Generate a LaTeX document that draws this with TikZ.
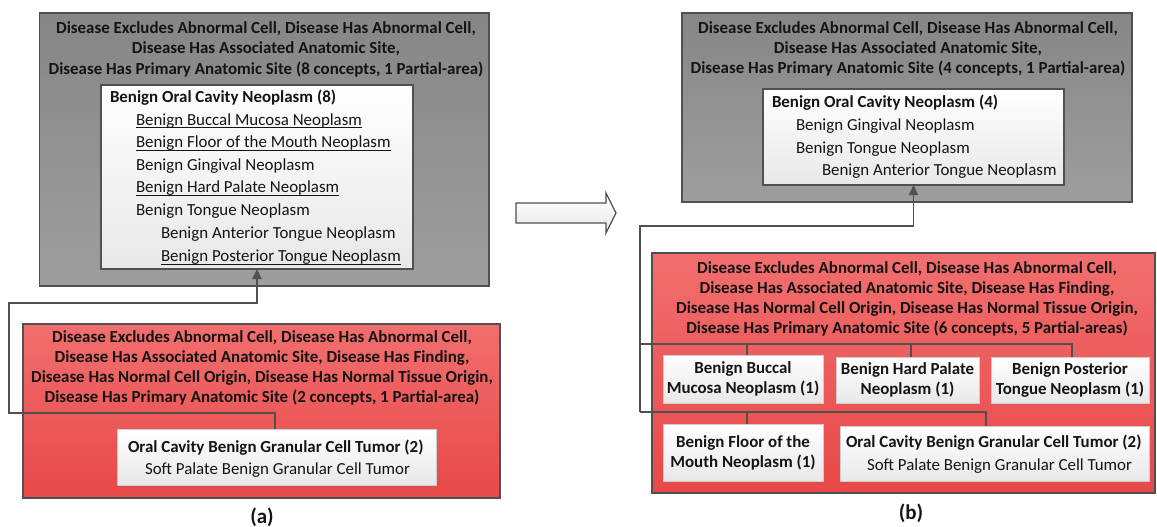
\documentclass[tikz,border=0pt]{standalone}
\usepackage{fontspec}
\setmainfont{Carlito}
\usetikzlibrary{arrows.meta}

\definecolor{edge}{RGB}{80,80,80}
\definecolor{gtop}{RGB}{134,134,134}
\definecolor{gbot}{RGB}{158,158,158}
\definecolor{rtop}{RGB}{242,110,110}
\definecolor{rbot}{RGB}{232,72,72}
\definecolor{wbot}{RGB}{232,232,232}
\definecolor{ink}{RGB}{20,20,20}
\definecolor{lightedge}{RGB}{205,205,205}

\begin{document}
\begin{tikzpicture}[x=1pt,y=-1pt,
  every node/.style={inner sep=0pt, outer sep=0pt, text=ink},
  tx/.style={font=\fontsize{16.9}{20}\selectfont},
  hd/.style={font=\fontsize{16.9}{20}\selectfont\bfseries},
  panel/.style={draw=edge, line width=1.6pt, anchor=north west},
  graypanel/.style={panel, top color=gtop, bottom color=gbot},
  redpanel/.style={panel, top color=rtop, bottom color=rbot},
  listbox/.style={draw=edge, line width=1.4pt, anchor=north west, top color=white, bottom color=wbot},
  pabox/.style={draw=lightedge, line width=0.8pt, top color=white, bottom color=wbot,
                align=center, font=\fontsize{16.9}{20}\selectfont\bfseries},
  conn/.style={draw=edge, line width=1.8pt},
  tip/.style={-{Triangle[length=10pt,width=9pt]}},
  uline/.style={draw=ink, line width=0.9pt},
  caption/.style={font=\fontsize{21}{24}\selectfont\bfseries, anchor=base}
]
\useasboundingbox (0,0) rectangle (1157,527);

% ---------------- (a) ----------------
\node[graypanel, minimum width=449.5pt, minimum height=273pt] (g1) at (39.5,13) {};
\node[hd, anchor=base] (g1l1) at (266,33.5) {Disease Excludes Abnormal Cell, Disease Has Abnormal Cell,};
\node[hd, anchor=base] (g1l2) at (266,54) {Disease Has Associated Anatomic Site,};
\node[hd, anchor=base] (g1l3) at (266,74.5) {Disease Has Primary Anatomic Site (8 concepts, 1 Partial-area)};

\node[listbox, minimum width=312pt, minimum height=184pt] (w1) at (101,85) {};
\node[hd, anchor=base west] (w1h) at (110,102.5) {Benign Oral Cavity Neoplasm (8)};
\node[tx, anchor=base west] (w1a) at (136,125) {Benign Buccal Mucosa Neoplasm};
\node[tx, anchor=base west] (w1b) at (136,147.5) {Benign Floor of the Mouth Neoplasm};
\node[tx, anchor=base west] (w1c) at (136,170) {Benign Gingival Neoplasm};
\node[tx, anchor=base west] (w1d) at (136,192.5) {Benign Hard Palate Neoplasm};
\node[tx, anchor=base west] (w1e) at (136,215.5) {Benign Tongue Neoplasm};
\node[tx, anchor=base west] (w1f) at (161,238.5) {Benign Anterior Tongue Neoplasm};
\node[tx, anchor=base west] (w1g) at (161,261.5) {Benign Posterior Tongue Neoplasm};
\foreach \n in {w1a,w1b,w1d,w1g}
  \draw[uline] ([yshift=-2.6pt]\n.base west) -- ([yshift=-2.6pt]\n.base east);

\node[redpanel, minimum width=477pt, minimum height=174pt] (r1) at (23,324) {};
\node[hd, anchor=base] (r1l1) at (262,342.5) {Disease Excludes Abnormal Cell, Disease Has Abnormal Cell,};
\node[hd, anchor=base] (r1l2) at (262,362.5) {Disease Has Associated Anatomic Site, Disease Has Finding,};
\node[hd, anchor=base] (r1l3) at (262,382.5) {Disease Has Normal Cell Origin, Disease Has Normal Tissue Origin,};
\node[hd, anchor=base] (r1l4) at (262,402.5) {Disease Has Primary Anatomic Site (2 concepts, 1 Partial-area)};

\node[listbox, draw=lightedge, line width=0.8pt, minimum width=319pt, minimum height=56pt] (w2) at (117,429) {};
\node[hd, anchor=base west] (w2h) at (128,452.5) {Oral Cavity Benign Granular Cell Tumor (2)};
\node[tx, anchor=base west] (w2a) at (145,474.5) {Soft Palate Benign Granular Cell Tumor};

\coordinate (la) at (9,413);
\coordinate (lb) at (9,303);
\draw[conn, tip] ([xshift=-1.5pt]w2.north) |- (la) -- (lb) -| (w1.south);

\node[caption] (capa) at (262,523) {(a)};

% ---------------- transition arrow ----------------
\draw[draw=edge, line width=1.3pt, top color=white, bottom color=wbot]
  (516,203) -- (606,203) -- (606,193) -- (616,213) -- (606,233) -- (606,223) -- (516,223) -- cycle;

% ---------------- (b) ----------------
\node[graypanel, minimum width=450pt, minimum height=189pt] (g2) at (682,13) {};
\node[hd, anchor=base] (g2l1) at (908,33.5) {Disease Excludes Abnormal Cell, Disease Has Abnormal Cell,};
\node[hd, anchor=base] (g2l2) at (908,53.5) {Disease Has Associated Anatomic Site,};
\node[hd, anchor=base] (g2l3) at (908,74) {Disease Has Primary Anatomic Site (4 concepts, 1 Partial-area)};

\node[listbox, minimum width=301pt, minimum height=96pt] (w3) at (763,89) {};
\node[hd, anchor=base west] (w3h) at (772,107.5) {Benign Oral Cavity Neoplasm (4)};
\node[tx, anchor=base west] (w3a) at (796,130.5) {Benign Gingival Neoplasm};
\node[tx, anchor=base west] (w3b) at (796,153.5) {Benign Tongue Neoplasm};
\node[tx, anchor=base west] (w3c) at (822,175.5) {Benign Anterior Tongue Neoplasm};

\node[redpanel, minimum width=503pt, minimum height=240pt] (r2) at (652,253) {};
\node[hd, anchor=base] (r2l1) at (907,273.5) {Disease Excludes Abnormal Cell, Disease Has Abnormal Cell,};
\node[hd, anchor=base] (r2l2) at (907,293.5) {Disease Has Associated Anatomic Site, Disease Has Finding,};
\node[hd, anchor=base] (r2l3) at (907,313.5) {Disease Has Normal Cell Origin, Disease Has Normal Tissue Origin,};
\node[hd, anchor=base] (r2l4) at (907,333.5) {Disease Has Primary Anatomic Site (6 concepts, 5 Partial-areas)};

\node[pabox, minimum width=160pt, minimum height=48pt] (b1) at (743,379) {Benign Buccal\\Mucosa Neoplasm (1)};
\node[pabox, minimum width=143pt, minimum height=46pt] (b2) at (907.5,380) {Benign Hard Palate\\Neoplasm (1)};
\node[pabox, minimum width=158pt, minimum height=46pt] (b3) at (1070,380) {Benign Posterior\\Tongue Neoplasm (1)};
\node[pabox, minimum width=160pt, minimum height=57pt] (b4) at (743,452.5) {Benign Floor of the\\Mouth Neoplasm (1)};
\node[listbox, draw=lightedge, line width=0.8pt, minimum width=309pt, minimum height=55pt] (b5) at (840,426) {};
\node[hd, anchor=base west] (b5h) at (846,447.5) {Oral Cavity Benign Granular Cell Tumor (2)};
\node[tx, anchor=base west] (b5a) at (867,470.5) {Soft Palate Benign Granular Cell Tumor};

\coordinate (rtop) at (640,226);
\coordinate (rj1) at (640,344);
\coordinate (rj2) at (640,412);
\draw[conn, tip] (rj2) -- (rtop) -| (w3.south);
\draw[conn] (rj1) -| ([xshift=4pt]b1.north);
\draw[conn] (rj1) -| ([xshift=3.5pt]b2.north);
\draw[conn] (rj1) -| ([xshift=2pt]b3.north);
\draw[conn] (rj2) -| ([xshift=4pt]b4.north);
\draw[conn] (rj2) -| ([xshift=-8.5pt]b5.north);

\node[caption] (capb) at (911,519) {(b)};
\end{tikzpicture}
\end{document}
